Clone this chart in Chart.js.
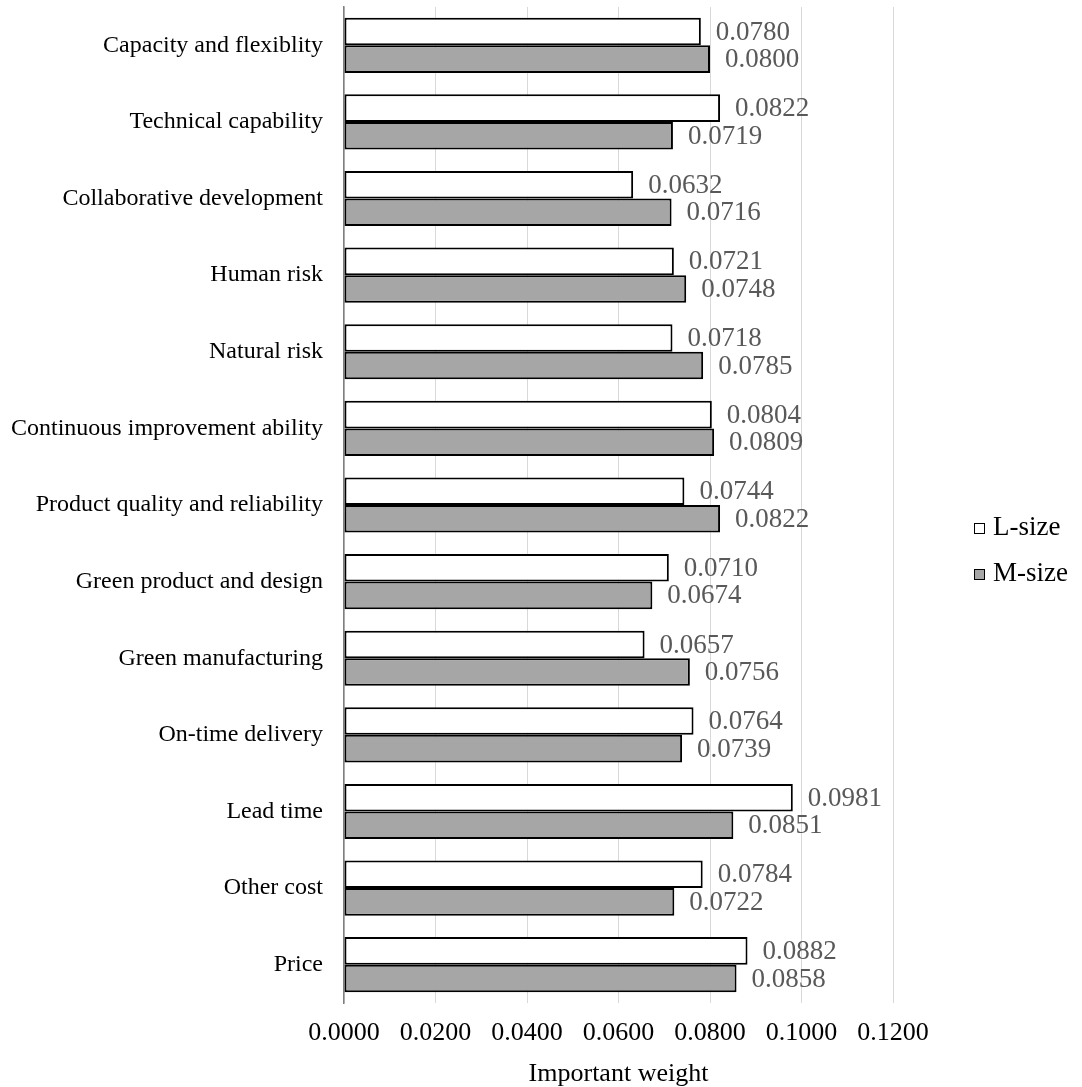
<!DOCTYPE html>
<html>
<head>
<meta charset="utf-8">
<title>Important weight by criterion</title>
<script src="https://cdn.jsdelivr.net/npm/chart.js@4"></script>
<style>
  html, body { margin: 0; padding: 0; background: #ffffff; }
  #wrap { width: 1082px; height: 1087px; position: relative; }
</style>
</head>
<body>
<div id="wrap"><canvas id="chart" width="1082" height="1087"></canvas></div>
<script>
// Criteria, listed from the top of the chart to the bottom
const categories = [
  'Capacity and flexiblity',
  'Technical capability',
  'Collaborative development',
  'Human risk',
  'Natural risk',
  'Continuous improvement ability',
  'Product quality and reliability',
  'Green product and design',
  'Green manufacturing',
  'On-time delivery',
  'Lead time',
  'Other cost',
  'Price'
];

// Important weights for large-size enterprises
const lSize = [0.0780, 0.0822, 0.0632, 0.0721, 0.0718, 0.0804, 0.0744, 0.0710, 0.0657, 0.0764, 0.0981, 0.0784, 0.0882];

// Important weights for medium-size enterprises
const mSize = [0.0800, 0.0719, 0.0716, 0.0748, 0.0785, 0.0809, 0.0822, 0.0674, 0.0756, 0.0739, 0.0851, 0.0722, 0.0858];

const seriesNames = ['L-size', 'M-size'];
const axisTitle = 'Important weight';
const xTicks = [0, 0.02, 0.04, 0.06, 0.08, 0.10, 0.12];

const SERIF = "'Liberation Serif', 'Times New Roman', serif";

// Value labels written just past the end of each bar
const valueLabels = {
  id: 'valueLabels',
  afterDatasetsDraw(chart) {
    const ctx = chart.ctx;
    ctx.save();
    ctx.font = '27px ' + SERIF;
    ctx.fillStyle = '#595959';
    ctx.textAlign = 'left';
    ctx.textBaseline = 'middle';
    chart.data.datasets.forEach((ds, di) => {
      const meta = chart.getDatasetMeta(di);
      meta.data.forEach((bar, i) => {
        ctx.fillText(ds.data[i].toFixed(4), bar.x + 15, bar.y + 1);
      });
    });
    ctx.restore();
  }
};

// Legend at the right of the plot
const sideLegend = {
  id: 'sideLegend',
  afterDraw(chart) {
    const ctx = chart.ctx;
    ctx.save();
    ctx.font = '27px ' + SERIF;
    ctx.textAlign = 'left';
    ctx.textBaseline = 'alphabetic';
    const x0 = 974;
    const baselines = [535, 581];
    chart.data.datasets.forEach((ds, di) => {
      const base = baselines[di];
      ctx.fillStyle = ds.backgroundColor;
      ctx.fillRect(x0, base - 12, 11, 11);
      ctx.strokeStyle = '#000000';
      ctx.lineWidth = 1;
      ctx.strokeRect(x0 + 0.5, base - 11.5, 10, 10);
      ctx.fillStyle = '#000000';
      ctx.fillText(ds.label, x0 + 19, base);
    });
    ctx.restore();
  }
};

new Chart(document.getElementById('chart'), {
  type: 'bar',
  data: {
    labels: categories,
    datasets: [
      {
        label: seriesNames[0],
        data: lSize,
        backgroundColor: '#ffffff',
        borderColor: '#000000',
        borderWidth: 2,
        borderSkipped: false
      },
      {
        label: seriesNames[1],
        data: mSize,
        backgroundColor: '#a6a6a6',
        borderColor: '#000000',
        borderWidth: 2,
        borderSkipped: false
      }
    ]
  },
  options: {
    indexAxis: 'y',
    responsive: false,
    animation: false,
    devicePixelRatio: 1,
    categoryPercentage: 0.72,
    barPercentage: 1.0,
    layout: { padding: { top: 7, right: 189, bottom: 0, left: 0 } },
    plugins: {
      legend: { display: false },
      tooltip: { enabled: false }
    },
    scales: {
      x: {
        type: 'linear',
        min: 0,
        max: 0.12,
        afterBuildTicks(scale) {
          scale.ticks = xTicks.map(v => ({ value: v }));
        },
        afterFit(scale) { scale.height = 84; },
        ticks: {
          padding: 15,
          color: '#000000',
          font: { family: SERIF, size: 26 },
          callback: v => Number(v).toFixed(4)
        },
        grid: {
          color: '#d9d9d9',
          lineWidth: 1,
          drawTicks: false
        },
        border: { display: false },
        title: {
          display: true,
          text: axisTitle,
          color: '#000000',
          font: { family: SERIF, size: 26, lineHeight: 1 },
          padding: { top: 10, bottom: 0 }
        }
      },
      y: {
        afterFit(scale) {
          scale.width = 344;
          scale.paddingTop = 0;
          scale.paddingBottom = 0;
        },
        ticks: {
          padding: 21,
          color: '#000000',
          font: { family: SERIF, size: 24 }
        },
        grid: { display: false, drawTicks: false },
        border: { display: true, color: '#7f7f7f', width: 1.5 }
      }
    }
  },
  plugins: [valueLabels, sideLegend]
});
</script>
</body>
</html>
